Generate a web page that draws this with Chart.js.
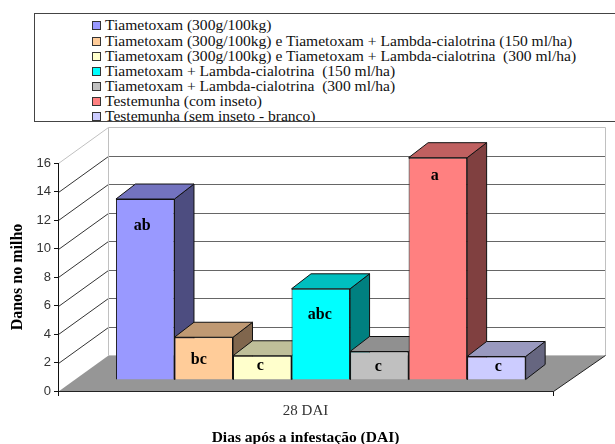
<!DOCTYPE html>
<html>
<head>
<meta charset="utf-8">
<script src="https://cdn.jsdelivr.net/npm/chart.js@4/dist/chart.umd.min.js"></script>
<style>
  html, body { margin: 0; background: #fff; overflow: hidden; }
  /* the source is a soft, rescaled screenshot */
  #wrap { position: relative; width: 615px; height: 444px; overflow: hidden; filter: blur(0.35px); }
  #legend {
    position: absolute; left: 34px; top: 13px; width: 620px; height: 107px;
    border: 1px solid #444; overflow: hidden; background: #fff;
  }
  #legend ul { list-style: none; margin: 0; padding: 3.4px 0 0 57px; }
  #legend li {
    height: 15.15px; white-space: pre; color: #111;
    font: 15.55px/15.15px "Liberation Serif", serif;
  }
  #legend i {
    display: inline-block; width: 7px; height: 7px; margin-right: 4px;
    border: 1px solid #333;
  }
</style>
</head>
<body>
<div id="wrap">
  <canvas id="chart" width="615" height="444"></canvas>
  <div id="legend"></div>
</div>
<script>
const categories = ['28 DAI'];
const seriesNames = [
  'Tiametoxam (300g/100kg)',
  'Tiametoxam (300g/100kg) e Tiametoxam + Lambda-cialotrina (150 ml/ha)',
  'Tiametoxam (300g/100kg) e Tiametoxam + Lambda-cialotrina  (300 ml/ha)',
  'Tiametoxam + Lambda-cialotrina  (150 ml/ha)',
  'Tiametoxam + Lambda-cialotrina  (300 ml/ha)',
  'Testemunha (com inseto)',
  'Testemunha (sem inseto - branco)',
];
const seriesValues = [12.7, 3.0, 1.7, 6.4, 2.0, 15.6, 1.65];
const seriesLetters = ['ab', 'bc', 'c', 'abc', 'c', 'a', 'c'];
const seriesColors = ['#9999FF', '#FFCC99', '#FFFFCC', '#00FFFF', '#C0C0C0', '#FF8080', '#CCCCFF'];

// hand-placed letters in the original, px below the bar top / from its centre
const letterDrop = [27, 23, 10, 26, 15, 18, 10];
const letterShift = [-3, -5, -2, -1, -1, -3, 2];

const WALL = { dx: 50, dy: 36 };
const BAR_SHIFT = { dx: 15.3, dy: 11 };
const BAR_DEPTH = { dx: 19.5, dy: 15 };

function shade(hex, f) {
  const n = parseInt(hex.slice(1), 16);
  const c = [n >> 16, (n >> 8) & 255, n & 255].map(v => Math.round(v * f));
  return `rgb(${c.join(',')})`;
}

function poly(ctx, pts, fill, stroke) {
  ctx.beginPath();
  pts.forEach((p, i) => i ? ctx.lineTo(p[0], p[1]) : ctx.moveTo(p[0], p[1]));
  ctx.closePath();
  if (fill) { ctx.fillStyle = fill; ctx.fill(); }
  if (stroke) { ctx.strokeStyle = stroke; ctx.lineWidth = 1; ctx.stroke(); }
}

function line(ctx, x1, y1, x2, y2, color) {
  ctx.beginPath();
  ctx.moveTo(x1, y1);
  ctx.lineTo(x2, y2);
  ctx.strokeStyle = color;
  ctx.lineWidth = 1;
  ctx.stroke();
}

// Chart.js has no 3D bars any more, so walls and extrusions hang off the scales
const walls3d = {
  id: 'walls3d',
  beforeDraw(chart) {
    const { ctx, chartArea: a, scales: { y } } = chart;
    const L = a.left + 0.5, R = a.right + 0.5, B = a.bottom + 0.5, T = a.top + 0.5;
    const bl = L + WALL.dx, br = R + WALL.dx + 2, bb = B - WALL.dy, bt = T - WALL.dy;
    ctx.save();
    poly(ctx, [[L, B], [R, B], [br, bb], [bl, bb]], '#969696');
    y.ticks.forEach(t => {
      const py = Math.round(y.getPixelForValue(t.value)) + 0.5;
      const top = t.value === y.max;
      if (t.value > 0) {
        line(ctx, L, py, bl, py - WALL.dy, top ? '#c0c0c0' : '#333');
        if (!top) line(ctx, bl, py - WALL.dy, br, py - WALL.dy, '#666');
      }
    });
    line(ctx, bl, bt, br, bt, '#c0c0c0');
    line(ctx, bl, bt, bl, bb, '#c0c0c0');
    line(ctx, br, bt, br, bb, '#c0c0c0');
    line(ctx, bl, bb, br, bb, '#c0c0c0');
    line(ctx, R, B, br, bb, '#222');
    ctx.restore();
  },
  // bars have to go left to right so each one hides the side of the previous
  beforeDatasetsDraw(chart) {
    const { ctx } = chart;
    ctx.save();
    ctx.translate(BAR_SHIFT.dx, BAR_SHIFT.dy * -1);
    chart.data.datasets.forEach((ds, i) => {
      const bar = chart.getDatasetMeta(i).data[0];
      const l = bar.x - bar.width / 2, r = bar.x + bar.width / 2;
      const t = bar.y, b = bar.base;
      const dx = BAR_DEPTH.dx, dy = BAR_DEPTH.dy;
      poly(ctx, [[r, t], [r + dx, t - dy], [r + dx, b - dy], [r, b]], shade(seriesColors[i], 0.5), '#111');
      poly(ctx, [[l, t], [l + dx, t - dy], [r + dx, t - dy], [r, t]], shade(seriesColors[i], 0.75), '#111');
      bar.draw(ctx);
    });
    ctx.fillStyle = '#000';
    ctx.font = 'bold 16px "Liberation Serif", serif';
    ctx.textAlign = 'center';
    ctx.textBaseline = 'middle';
    chart.data.datasets.forEach((ds, i) => {
      const bar = chart.getDatasetMeta(i).data[0];
      ctx.fillText(seriesLetters[i], bar.x + letterShift[i], bar.y + letterDrop[i]);
    });
    ctx.restore();
    return false;
  },
};

const htmlLegend = {
  id: 'htmlLegend',
  afterUpdate(chart) {
    const ul = document.createElement('ul');
    chart.data.datasets.forEach(ds => {
      const li = document.createElement('li');
      const box = document.createElement('i');
      box.style.background = ds.backgroundColor;
      li.appendChild(box);
      li.appendChild(document.createTextNode(ds.label));
      ul.appendChild(li);
    });
    document.getElementById('legend').replaceChildren(ul);
  },
};

new Chart(document.getElementById('chart'), {
  type: 'bar',
  data: {
    labels: categories,
    datasets: seriesNames.map((name, i) => ({
      label: name,
      data: [seriesValues[i]],
      backgroundColor: seriesColors[i],
      borderColor: '#111',
      borderWidth: 1,
    })),
  },
  options: {
    responsive: false,
    animation: false,
    categoryPercentage: 0.8277,
    barPercentage: 1,
    layout: { padding: { top: 163, right: 62, bottom: 0, left: 0 } },
    plugins: { legend: { display: false }, tooltip: { enabled: false } },
    scales: {
      x: {
        afterFit: s => { s.height = 53; },
        grid: { color: '#111', drawOnChartArea: false, tickLength: 5 },
        border: { color: '#222' },
        ticks: { color: '#333', padding: 6, font: { family: '"Liberation Serif", serif', size: 15 } },
        title: {
          display: true, text: 'Dias após a infestação (DAI)', color: '#000', padding: 0,
          // title hangs from the canvas bottom, the short line height pushes it down
          font: { family: '"Liberation Serif", serif', size: 15.5, weight: 'bold', lineHeight: 0.75 },
        },
      },
      y: {
        min: 0, max: 16,
        afterFit: s => { s.width = 58; },
        grid: { color: '#111', drawOnChartArea: false, tickLength: 4 },
        border: { color: '#111' },
        ticks: { stepSize: 2, color: '#333', padding: 3, font: { family: '"Liberation Sans", sans-serif', size: 13 } },
        title: {
          display: true, text: 'Danos no milho', color: '#000', padding: { top: 8, bottom: 0 },
          font: { family: '"Liberation Serif", serif', size: 16, weight: 'bold' },
        },
      },
    },
  },
  plugins: [walls3d, htmlLegend],
});
</script>
</body>
</html>
